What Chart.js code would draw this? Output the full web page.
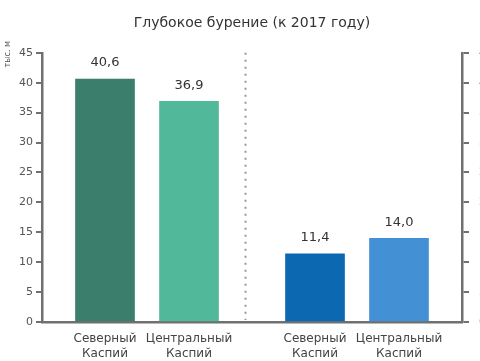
<!DOCTYPE html>
<html>
<head>
<meta charset="utf-8">
<script src="https://cdn.jsdelivr.net/npm/chart.js@4"></script>
<style>
html,body{margin:0;padding:0;background:#fff;overflow:hidden}
#wrap{width:480px;height:361px;position:relative}
</style>
</head>
<body>
<div id="wrap"><canvas id="ch"></canvas></div>
<script>
// slots: empty ones keep the gap between the two groups
const categories=['',['Северный','Каспий'],'',['Центральный','Каспий'],'','',['Северный','Каспий'],'',['Центральный','Каспий'],''];
const values=[null,40.6,null,36.9,null,null,11.4,null,14.0,null];
const barColors=['#3b7e6c','#3b7e6c','#52b89a','#52b89a','#52b89a','#0d68b2','#0d68b2','#0d68b2','#4490d4','#4490d4'];
const yTicks=[0,5,10,15,20,25,30,35,40,45];
const titleText='Глубокое бурение (к 2017 году)';
const unitText='тыс. м';
const separatorAt=4.33;

const FONT='"DejaVu Sans", Verdana, sans-serif';
const AXIS='#707070';

const extras={
  id:'extras',
  afterDatasetsDraw(chart){
    const {ctx,chartArea:a,scales:{x}}=chart;
    ctx.save();
    // dotted separator
    const sx=Math.round(x.getPixelForValue(separatorAt))+0.5;
    ctx.strokeStyle='#999';ctx.lineWidth=2;ctx.setLineDash([2,5]);
    ctx.beginPath();ctx.moveTo(sx,a.top);ctx.lineTo(sx,a.bottom-2);ctx.stroke();
    ctx.setLineDash([]);
    // value labels
    ctx.fillStyle='#333';ctx.font='13px '+FONT;ctx.textAlign='center';ctx.textBaseline='middle';
    chart.getDatasetMeta(0).data.forEach((bar,i)=>{
      if(values[i]==null)return;
      ctx.fillText(values[i].toFixed(1).replace('.',','),bar.x,bar.y-16);
    });
    // unit label
    ctx.translate(8,41);ctx.rotate(-Math.PI/2);
    ctx.font='8px '+FONT;ctx.textAlign='right';ctx.fillStyle='#555';
    ctx.fillText(unitText,0,0);
    ctx.restore();
  }
};

new Chart(document.getElementById('ch'),{
  type:'bar',
  data:{labels:categories,datasets:[{data:values,backgroundColor:barColors,barThickness:59,borderWidth:0}]},
  plugins:[extras],
  options:{
    responsive:true,maintainAspectRatio:false,animation:false,
    layout:{padding:{top:0,left:0,right:0,bottom:0}},
    plugins:{
      legend:{display:false},tooltip:{enabled:false},
      title:{display:true,text:titleText,fullSize:false,color:'#333',font:{family:FONT,size:14,weight:'normal'},padding:{top:15,bottom:21}}
    },
    scales:{
      x:{
        grid:{display:false,drawTicks:false},
        border:{display:true,color:AXIS,width:2.5},
        ticks:{color:'#444',padding:9,autoSkip:false,maxRotation:0,font:{family:FONT,size:12,lineHeight:1.25}},
        afterFit(s){s.height=39}
      },
      y:{
        min:0,max:45,
        afterBuildTicks(s){s.ticks=yTicks.map(v=>({value:v}))},
        grid:{drawOnChartArea:false,color:AXIS,tickLength:6,lineWidth:2},
        border:{display:true,color:AXIS,width:2.5},
        ticks:{color:'#555',padding:3,font:{family:FONT,size:11}},
        afterFit(s){s.width=42}
      },
      y2:{
        position:'right',min:0,max:45,
        afterBuildTicks(s){s.ticks=yTicks.map(v=>({value:v}))},
        grid:{drawOnChartArea:false,color:AXIS,tickLength:7,lineWidth:2},
        border:{display:true,color:AXIS,width:2.5},
        ticks:{color:'#555',padding:10,font:{family:FONT,size:11}},
        afterFit(s){s.width=18}
      }
    }
  }
});
</script>
</body>
</html>
